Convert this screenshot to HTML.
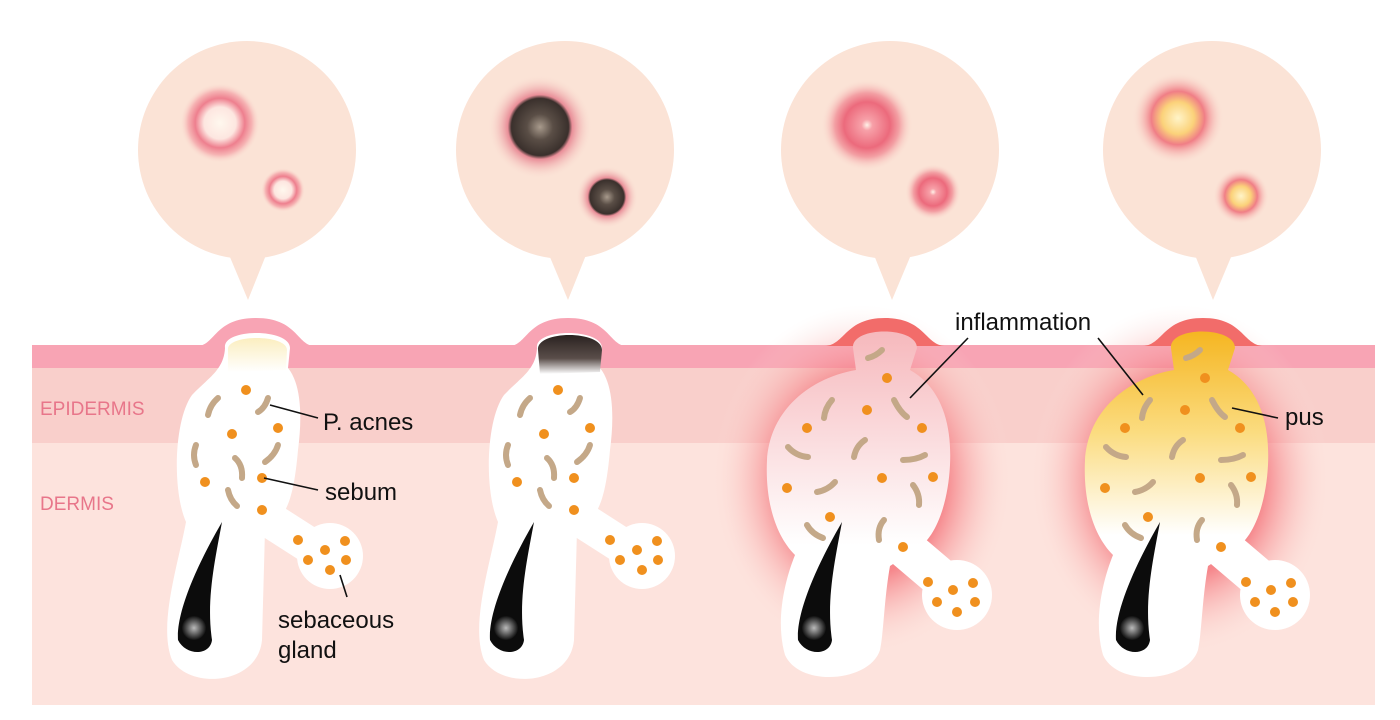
<!DOCTYPE html>
<html><head><meta charset="utf-8"><style>
html,body{margin:0;padding:0;background:#fff;}
svg{display:block}
text{font-family:"Liberation Sans",sans-serif;}
</style></head><body>
<svg width="1400" height="720" viewBox="0 0 1400 720" xmlns="http://www.w3.org/2000/svg">
<defs>
<radialGradient id="pinkspot"><stop offset="0" stop-color="#fff8ee"/><stop offset="0.4" stop-color="#fde6e0"/><stop offset="0.62" stop-color="#ee7f8e"/><stop offset="0.8" stop-color="#f6b4b4"/><stop offset="1" stop-color="#fbe3d6" stop-opacity="0"/></radialGradient>
<radialGradient id="blackspot"><stop offset="0" stop-color="#a89a8c"/><stop offset="0.25" stop-color="#5a4e46"/><stop offset="0.55" stop-color="#3a302c"/><stop offset="0.62" stop-color="#e98e98"/><stop offset="1" stop-color="#fbe3d6" stop-opacity="0"/></radialGradient>
<radialGradient id="redspot"><stop offset="0" stop-color="#fff2e8"/><stop offset="0.12" stop-color="#f7a0a8"/><stop offset="0.5" stop-color="#ec6a7c"/><stop offset="0.7" stop-color="#f3a0a4"/><stop offset="1" stop-color="#fbe3d6" stop-opacity="0"/></radialGradient>
<radialGradient id="yelspot"><stop offset="0" stop-color="#fff4c8"/><stop offset="0.35" stop-color="#fbd27a"/><stop offset="0.58" stop-color="#f07e86"/><stop offset="1" stop-color="#fbe3d6" stop-opacity="0"/></radialGradient>
<radialGradient id="bulb" cx="0.5" cy="0.5"><stop offset="0" stop-color="#bbb"/><stop offset="1" stop-color="#111"/></radialGradient>
<radialGradient id="glow"><stop offset="0.55" stop-color="#f36870" stop-opacity="0.75"/><stop offset="1" stop-color="#fde3dd" stop-opacity="0"/></radialGradient>
<linearGradient id="capY" x1="0" y1="0" x2="0" y2="1"><stop offset="0" stop-color="#fbeec0"/><stop offset="1" stop-color="#fff"/></linearGradient>
<linearGradient id="capB" x1="0" y1="0" x2="0" y2="1"><stop offset="0" stop-color="#2a2220"/><stop offset="0.6" stop-color="#5a4e4a"/><stop offset="1" stop-color="#fff"/></linearGradient>
<linearGradient id="inflam" gradientUnits="userSpaceOnUse" x1="0" y1="330" x2="0" y2="545"><stop offset="0" stop-color="#f6b8bc"/><stop offset="1" stop-color="#fff"/></linearGradient>
<linearGradient id="pus" gradientUnits="userSpaceOnUse" x1="0" y1="330" x2="0" y2="535"><stop offset="0" stop-color="#f5b520"/><stop offset="0.5" stop-color="#fbdc80"/><stop offset="1" stop-color="#fff"/></linearGradient>
<g id="hair"><path d="M222,522 C215,560 206,600 212,640 C210,656 186,656 178,640 C176,610 200,560 222,522 Z" fill="#0c0c0c"/><circle cx="194" cy="628" r="12" fill="url(#bulb)"/></g>
<g id="smallF">
<path d="M225,348 C222,328 290,328 290,348 L288,368 C302,385 302,420 298,450 C295,485 290,505 282,515 L265,530 L262,640 C258,685 190,690 172,660 C158,625 178,565 186,522 C172,490 174,420 192,395 C208,378 224,370 225,348 Z" fill="#fff"/>
<path d="M270,520 L320,552" stroke="#fff" stroke-width="36" stroke-linecap="round"/>
<circle cx="330" cy="556" r="33" fill="#fff"/>
</g>
<g id="bigF">
<path d="M853,348 C851,326 917,326 917,348 L910,370 C942,388 952,425 950,465 C948,505 935,540 915,550 L890,566 C884,600 884,630 880,650 C870,682 800,688 785,655 C775,620 785,580 795,555 C775,535 765,500 767,460 C770,410 810,378 856,370 Z"/>
</g>
<g id="bact" stroke="#c4a888" stroke-width="6" fill="none" stroke-linecap="round">
<path d="M868,358 Q876,356 882,350"/><path d="M832,400 Q825,408 824,418"/><path d="M894,400 Q900,412 907,417"/><path d="M788,447 Q796,456 808,457"/><path d="M865,440 Q856,446 854,457"/><path d="M903,460 Q916,460 925,455"/><path d="M817,492 Q828,490 835,482"/><path d="M913,485 Q920,494 919,505"/><path d="M807,525 Q812,534 823,538"/><path d="M884,520 Q877,528 879,540"/>
</g>
<g id="dots" fill="#f0901e">
<circle cx="887" cy="378" r="5"/><circle cx="867" cy="410" r="5"/><circle cx="807" cy="428" r="5"/><circle cx="922" cy="428" r="5"/><circle cx="882" cy="478" r="5"/><circle cx="933" cy="477" r="5"/><circle cx="787" cy="488" r="5"/><circle cx="830" cy="517" r="5"/><circle cx="903" cy="547" r="5"/><circle cx="928" cy="582" r="5"/><circle cx="953" cy="590" r="5"/><circle cx="973" cy="583" r="5"/><circle cx="937" cy="602" r="5"/><circle cx="975" cy="602" r="5"/><circle cx="957" cy="612" r="5"/>
</g>
</defs>

<!-- bubbles -->
<g fill="#fbe3d6">
<circle cx="247" cy="150" r="109"/><polygon points="227,250 268,250 248,300"/>
<circle cx="565" cy="150" r="109"/><polygon points="547,250 588,250 568,300"/>
<circle cx="890" cy="150" r="109"/><polygon points="872,250 913,250 892,300"/>
<circle cx="1212" cy="150" r="109"/><polygon points="1193,250 1234,250 1213,300"/>
</g>
<circle cx="220" cy="123" r="40" fill="url(#pinkspot)"/>
<circle cx="283" cy="190" r="22" fill="url(#pinkspot)"/>
<circle cx="540" cy="127" r="52" fill="url(#blackspot)"/>
<circle cx="607" cy="197" r="31" fill="url(#blackspot)"/>
<circle cx="867" cy="125" r="46" fill="url(#redspot)"/>
<circle cx="933" cy="192" r="28" fill="url(#redspot)"/>
<circle cx="1178" cy="118" r="46" fill="url(#yelspot)"/>
<circle cx="1241" cy="196" r="28" fill="url(#yelspot)"/>

<!-- skin -->
<rect x="32" y="345" width="1343" height="360" fill="#fde3dd"/>
<rect x="32" y="368" width="1343" height="75" fill="#f9cfcb"/>
<rect x="32" y="345" width="1343" height="23" fill="#f8a4b4"/>
<g fill="#f8a4b4">
<path d="M198,346 C215,345 215,318 256,318 C297,318 297,345 314,346 Z"/>
<path d="M510,346 C527,345 527,318 568,318 C609,318 609,345 626,346 Z"/>
</g>
<ellipse cx="862" cy="480" rx="150" ry="175" fill="url(#glow)"/>
<ellipse cx="1180" cy="480" rx="150" ry="175" fill="url(#glow)"/>
<path d="M825,346 C845,345 845,318 885,318 C925,318 925,345 945,346 Z" fill="#f26c6a"/>
<path d="M1143,346 C1163,345 1163,318 1203,318 C1243,318 1243,345 1263,346 Z" fill="#f26c6a"/>

<!-- follicles -->
<use href="#smallF"/>
<path d="M228,350 C226,334 287,334 287,350 L286,370 L228,372 Z" fill="url(#capY)"/>
<use href="#hair"/>
<g transform="translate(312,0)"><use href="#smallF"/>
<path d="M226,350 C224,330 290,330 290,350 L288,372 L228,374 Z" fill="url(#capB)"/>
<use href="#hair"/></g>

<path d="M905,548 L945,582" stroke="#fff" stroke-width="40" stroke-linecap="round"/>
<circle cx="957" cy="595" r="35" fill="#fff"/>
<use href="#bigF" fill="url(#inflam)"/>
<g transform="translate(620,0)"><use href="#hair"/></g>
<g transform="translate(318,0)">
<path d="M905,548 L945,582" stroke="#fff" stroke-width="40" stroke-linecap="round"/>
<circle cx="957" cy="595" r="35" fill="#fff"/>
<use href="#bigF" fill="url(#pus)"/>
<g transform="translate(620,0)"><use href="#hair"/></g></g>

<use href="#bact"/><use href="#dots"/>
<g transform="translate(318,0)"><use href="#bact"/><use href="#dots"/></g>

<!-- small follicle contents -->
<g stroke="#c4a888" stroke-width="6" fill="none" stroke-linecap="round">
<path d="M218,398 Q210,405 208,415"/><path d="M268,398 Q265,408 258,412"/><path d="M196,445 Q192,455 196,465"/><path d="M278,445 Q275,455 265,462"/><path d="M235,458 Q243,465 242,478"/><path d="M228,490 Q230,500 237,506"/>
<g transform="translate(312,0)"><path d="M218,398 Q210,405 208,415"/><path d="M268,398 Q265,408 258,412"/><path d="M196,445 Q192,455 196,465"/><path d="M278,445 Q275,455 265,462"/><path d="M235,458 Q243,465 242,478"/><path d="M228,490 Q230,500 237,506"/></g>
</g>
<g fill="#f0901e">
<circle cx="246" cy="390" r="5"/><circle cx="232" cy="434" r="5"/><circle cx="278" cy="428" r="5"/><circle cx="205" cy="482" r="5"/><circle cx="262" cy="478" r="5"/><circle cx="262" cy="510" r="5"/>
<circle cx="298" cy="540" r="5"/><circle cx="325" cy="550" r="5"/><circle cx="345" cy="541" r="5"/><circle cx="308" cy="560" r="5"/><circle cx="346" cy="560" r="5"/><circle cx="330" cy="570" r="5"/>
<g transform="translate(312,0)"><circle cx="246" cy="390" r="5"/><circle cx="232" cy="434" r="5"/><circle cx="278" cy="428" r="5"/><circle cx="205" cy="482" r="5"/><circle cx="262" cy="478" r="5"/><circle cx="262" cy="510" r="5"/><circle cx="298" cy="540" r="5"/><circle cx="325" cy="550" r="5"/><circle cx="345" cy="541" r="5"/><circle cx="308" cy="560" r="5"/><circle cx="346" cy="560" r="5"/><circle cx="330" cy="570" r="5"/></g>
</g>

<!-- leader lines -->
<g stroke="#111" stroke-width="1.6" fill="none">
<line x1="270" y1="405" x2="318" y2="418"/>
<line x1="264" y1="478" x2="318" y2="490"/>
<line x1="340" y1="575" x2="347" y2="597"/>
<line x1="968" y1="338" x2="910" y2="398"/>
<line x1="1098" y1="338" x2="1143" y2="395"/>
<line x1="1232" y1="408" x2="1278" y2="418"/>
</g>
<g font-size="24" fill="#111">
<text x="323" y="430">P. acnes</text>
<text x="325" y="500">sebum</text>
<text x="278" y="628">sebaceous</text>
<text x="278" y="658">gland</text>
<text x="955" y="330">inflammation</text>
<text x="1285" y="425">pus</text>
</g>
<g font-size="19" fill="#e8768a">
<text x="40" y="415">EPIDERMIS</text>
<text x="40" y="510">DERMIS</text>
</g>
</svg>
</body></html>
